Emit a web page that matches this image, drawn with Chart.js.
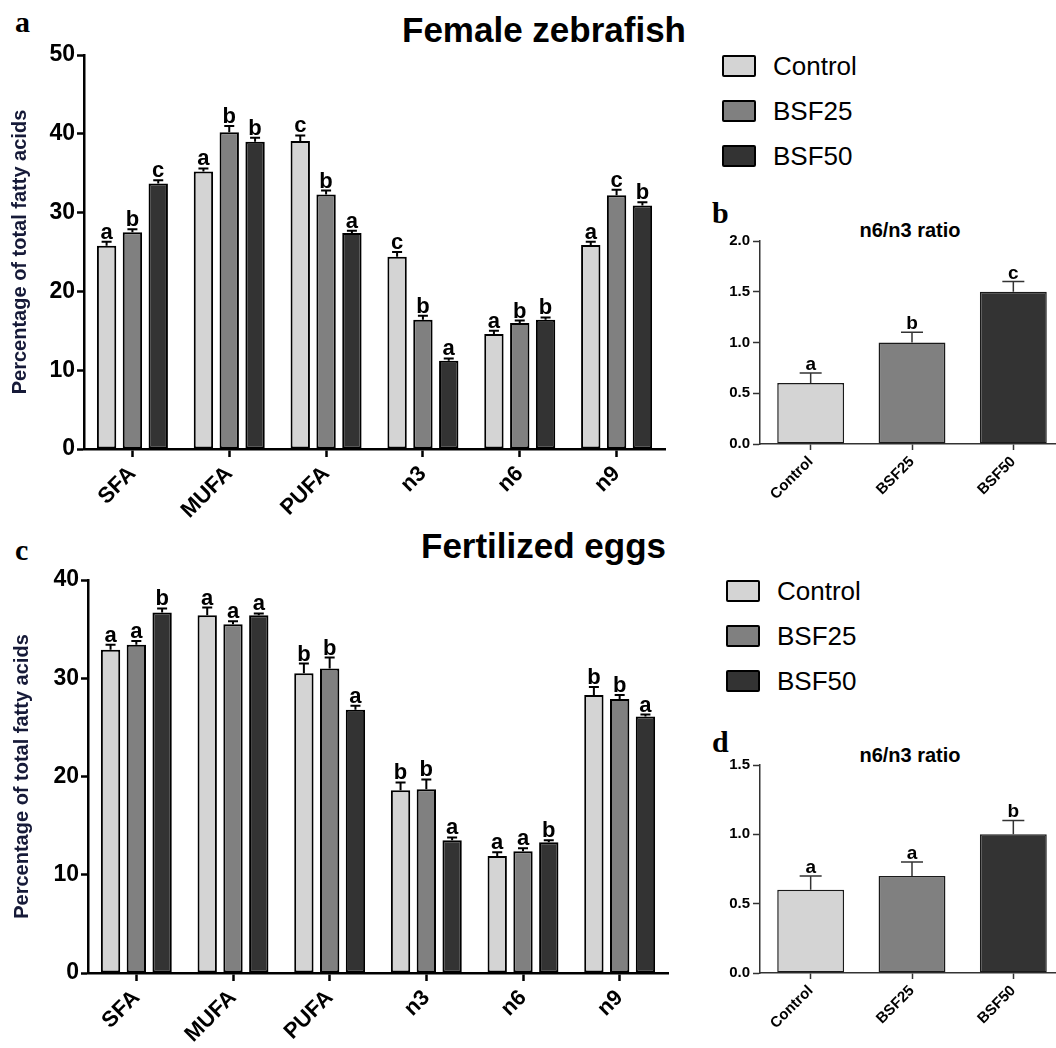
<!DOCTYPE html>
<html>
<head>
<meta charset="utf-8">
<script src="https://cdn.jsdelivr.net/npm/chart.js@4.4.1/dist/chart.umd.min.js"></script>
<style>
  html, body { margin: 0; padding: 0; overflow: hidden; background: #fff; }
  body { position: relative; width: 1056px; height: 1048px; font-family: 'Liberation Sans', Arial, sans-serif; }
  .abs { position: absolute; }
  .panel-label { font-family: 'Liberation Serif', 'Times New Roman', serif; font-weight: bold; font-size: 30px; line-height: 1; }
  .main-title { font-weight: bold; font-size: 35px; line-height: 1; white-space: nowrap; }
  .small-title { font-weight: bold; font-size: 20px; line-height: 1; width: 200px; text-align: center; }
  .legend-row { position: absolute; display: flex; align-items: center; font-size: 26px; line-height: 1; }
  .legend-box { width: 30px; height: 18px; border: 2px solid #000; border-radius: 2px; margin-right: 18px; }
</style>
</head>
<body>

<div class="abs panel-label" style="left:15px;top:7px">a</div>
<div class="abs panel-label" style="left:712px;top:198px">b</div>
<div class="abs panel-label" style="left:15px;top:535px">c</div>
<div class="abs panel-label" style="left:712px;top:727px">d</div>

<div class="abs main-title" style="left:402px;top:12px">Female zebrafish</div>
<div class="abs main-title" style="left:421px;top:528px">Fertilized eggs</div>

<div class="abs small-title" style="left:810px;top:220px">n6/n3 ratio</div>
<div class="abs small-title" style="left:810px;top:745px">n6/n3 ratio</div>

<div id="legendTop"></div>
<div id="legendBottom"></div>

<div class="abs" style="left:0;top:0"><canvas id="chartA" width="700" height="520"></canvas></div>
<div class="abs" style="left:700px;top:190px"><canvas id="chartB" width="370" height="330"></canvas></div>
<div class="abs" style="left:0;top:520px"><canvas id="chartC" width="700" height="528"></canvas></div>
<div class="abs" style="left:700px;top:720px"><canvas id="chartD" width="370" height="328"></canvas></div>

<script>
// ---- data ----
const categories = ['SFA', 'MUFA', 'PUFA', 'n3', 'n6', 'n9'];
const groups = ['Control', 'BSF25', 'BSF50'];
const groupColors = ['#d4d4d4', '#808080', '#333333'];

// Female zebrafish (panel a)
const femaleControl = [25.8, 35.2, 39.1, 24.4, 14.6, 25.9];
const femaleBSF25 = [27.5, 40.2, 32.3, 16.4, 16.0, 32.2];
const femaleBSF50 = [33.7, 39.0, 27.4, 11.2, 16.4, 30.9];
const femaleControlErr = [0.5, 0.4, 0.7, 0.6, 0.4, 0.4];
const femaleBSF25Err = [0.4, 0.8, 0.5, 0.5, 0.3, 0.7];
const femaleBSF50Err = [0.4, 0.5, 0.3, 0.3, 0.3, 0.4];
const femaleControlSig = ['a', 'a', 'c', 'c', 'a', 'a'];
const femaleBSF25Sig = ['b', 'b', 'b', 'b', 'b', 'c'];
const femaleBSF50Sig = ['c', 'b', 'a', 'a', 'b', 'b'];

// Fertilized eggs (panel c)
const eggsControl = [32.9, 36.4, 30.5, 18.6, 11.9, 28.3];
const eggsBSF25 = [33.4, 35.5, 31.0, 18.7, 12.4, 27.9];
const eggsBSF50 = [36.7, 36.4, 26.8, 13.5, 13.3, 26.1];
const eggsControlErr = [0.5, 0.8, 1.0, 0.8, 0.4, 0.8];
const eggsBSF25Err = [0.4, 0.3, 1.1, 1.0, 0.3, 0.4];
const eggsBSF50Err = [0.4, 0.2, 0.4, 0.3, 0.2, 0.2];
const eggsControlSig = ['a', 'a', 'b', 'b', 'a', 'b'];
const eggsBSF25Sig = ['a', 'a', 'b', 'b', 'a', 'b'];
const eggsBSF50Sig = ['b', 'a', 'a', 'a', 'b', 'a'];

// n6/n3 ratio (panels b and d)
const femaleRatio = [0.6, 1.0, 1.5];
const femaleRatioErr = [0.1, 0.1, 0.1];
const femaleRatioSig = ['a', 'b', 'c'];
const eggsRatio = [0.6, 0.7, 1.0];
const eggsRatioErr = [0.1, 0.1, 0.1];
const eggsRatioSig = ['a', 'a', 'b'];

const yTitle = 'Percentage of total fatty acids';

Chart.defaults.font.family = "'Liberation Sans', Arial, sans-serif";
Chart.defaults.color = '#000';

// legends (shared by both big panels)
function buildLegend(id, left, textLeft, rowsY) {
  const holder = document.getElementById(id);
  groups.forEach((g, i) => {
    const row = document.createElement('div');
    row.className = 'legend-row';
    row.style.left = left + 'px';
    row.style.top = (rowsY[i] - 13) + 'px';
    row.style.height = '26px';
    const box = document.createElement('div');
    box.className = 'legend-box';
    box.style.background = groupColors[i];
    box.style.marginRight = (textLeft - left - 34) + 'px';
    const label = document.createElement('span');
    label.textContent = g;
    row.appendChild(box);
    row.appendChild(label);
    holder.appendChild(row);
  });
}
buildLegend('legendTop', 722, 773, [66, 111, 156]);
buildLegend('legendBottom', 726, 777, [591, 636, 681]);

// error bars + significance letters
const errorBarPlugin = {
  id: 'errorBars',
  afterDatasetsDraw(chart, args, opts) {
    const ctx = chart.ctx;
    const yScale = chart.scales.y;
    chart.data.datasets.forEach((ds, i) => {
      const meta = chart.getDatasetMeta(i);
      meta.data.forEach((bar, j) => {
        const top = yScale.getPixelForValue(ds.data[j] + ds.errors[j]);
        ctx.save();
        ctx.strokeStyle = opts.color;
        ctx.lineWidth = opts.lineWidth;
        ctx.beginPath();
        ctx.moveTo(bar.x, bar.y);
        ctx.lineTo(bar.x, top);
        ctx.moveTo(bar.x - opts.capWidth / 2, top);
        ctx.lineTo(bar.x + opts.capWidth / 2, top);
        ctx.stroke();
        ctx.fillStyle = '#000';
        ctx.font = opts.font;
        ctx.textAlign = 'center';
        ctx.textBaseline = 'alphabetic';
        ctx.fillText(ds.letters[j], bar.x, top - opts.gap);
        ctx.restore();
      });
    });
  }
};

function groupedChart(canvasId, series, errs, sigs, yMax, area, titlePad) {
  const datasets = groups.map((g, i) => ({
    label: g,
    data: series[i],
    errors: errs[i],
    letters: sigs[i],
    backgroundColor: groupColors[i],
    borderColor: '#000',
    borderWidth: 2,
    borderSkipped: false,
    categoryPercentage: 0.8,
    barPercentage: 0.75
  }));
  return new Chart(document.getElementById(canvasId), {
    type: 'bar',
    data: { labels: categories, datasets: datasets },
    plugins: [errorBarPlugin],
    options: {
      responsive: false,
      animation: false,
      layout: { padding: { top: area.top, right: area.right, left: 0, bottom: 0 } },
      plugins: {
        legend: { display: false },
        tooltip: { enabled: false },
        errorBars: { color: '#000', lineWidth: 2, capWidth: 10, gap: 3, font: "bold 22px 'Liberation Sans', Arial, sans-serif" }
      },
      scales: {
        x: {
          grid: { offset: false, drawOnChartArea: false, tickLength: 8, tickWidth: 2.5, tickColor: '#000' },
          border: { color: '#000', width: 2.5 },
          ticks: { font: { size: 22, weight: 'bold' }, color: '#000', minRotation: 45, maxRotation: 45, padding: 4 },
          afterFit(scale) { scale.height = area.xHeight; scale.paddingLeft = 0; scale.paddingRight = 0; }
        },
        y: {
          min: 0,
          max: yMax,
          ticks: { stepSize: 10, font: { size: 23, weight: 'bold' }, color: '#000', padding: 2 },
          grid: { drawOnChartArea: false, tickLength: 7, tickWidth: 2.5, tickColor: '#000' },
          border: { color: '#000', width: 2.5 },
          title: { display: true, text: yTitle, color: '#161a38', font: { size: 20, weight: 'bold' }, padding: { top: titlePad, bottom: 0 } },
          afterFit(scale) { scale.width = area.yWidth; scale.paddingTop = 0; scale.paddingBottom = 0; }
        }
      }
    }
  });
}

function ratioChart(canvasId, values, errs, sigs, yMax, area) {
  return new Chart(document.getElementById(canvasId), {
    type: 'bar',
    data: {
      labels: groups,
      datasets: [{
        data: values,
        errors: errs,
        letters: sigs,
        backgroundColor: groupColors,
        borderColor: '#1a1a1a',
        borderWidth: 1.5,
        borderSkipped: false,
        categoryPercentage: 1,
        barPercentage: 0.66
      }]
    },
    plugins: [errorBarPlugin],
    options: {
      responsive: false,
      animation: false,
      layout: { padding: { top: area.top, right: area.right, left: 0, bottom: 0 } },
      plugins: {
        legend: { display: false },
        tooltip: { enabled: false },
        errorBars: { color: '#333', lineWidth: 1.5, capWidth: 22, gap: 3, font: "bold 19px 'Liberation Sans', Arial, sans-serif" }
      },
      scales: {
        x: {
          grid: { offset: false, drawOnChartArea: false, tickLength: 6, tickWidth: 1.5, tickColor: '#333' },
          border: { color: '#333', width: 1.5 },
          ticks: { font: { size: 15, weight: 'bold' }, color: '#000', minRotation: 45, maxRotation: 45, padding: 3 },
          afterFit(scale) { scale.height = area.xHeight; scale.paddingLeft = 0; scale.paddingRight = 0; }
        },
        y: {
          min: 0,
          max: yMax,
          ticks: { stepSize: 0.5, font: { size: 15, weight: 'bold' }, color: '#000', padding: 3,
                   callback: v => v.toFixed(1) },
          grid: { drawOnChartArea: false, tickLength: 7, tickWidth: 1.5, tickColor: '#333' },
          border: { color: '#333', width: 1.5 },
          afterFit(scale) { scale.width = area.yWidth; scale.paddingTop = 0; scale.paddingBottom = 0; }
        }
      }
    }
  });
}

// Panel a - Female zebrafish
groupedChart('chartA',
  [femaleControl, femaleBSF25, femaleBSF50],
  [femaleControlErr, femaleBSF25Err, femaleBSF50Err],
  [femaleControlSig, femaleBSF25Sig, femaleBSF50Sig],
  50, { top: 55, right: 35, yWidth: 84, xHeight: 71 }, 8);

// Panel c - Fertilized eggs
groupedChart('chartC',
  [eggsControl, eggsBSF25, eggsBSF50],
  [eggsControlErr, eggsBSF25Err, eggsBSF50Err],
  [eggsControlSig, eggsBSF25Sig, eggsBSF50Sig],
  40, { top: 60, right: 32, yWidth: 88, xHeight: 75 }, 10);

// Panel b - female n6/n3 ratio
ratioChart('chartB', femaleRatio, femaleRatioErr, femaleRatioSig, 2.0,
  { top: 51, right: 6, yWidth: 60, xHeight: 76 });

// Panel d - eggs n6/n3 ratio
ratioChart('chartD', eggsRatio, eggsRatioErr, eggsRatioSig, 1.5,
  { top: 45, right: 6, yWidth: 60, xHeight: 75 });
</script>
</body>
</html>
